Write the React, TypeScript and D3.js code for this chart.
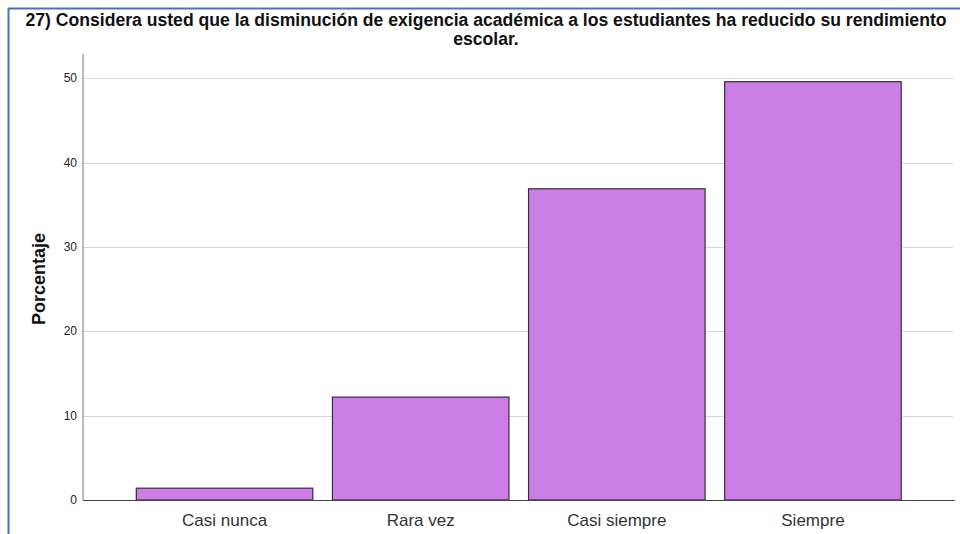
import { useEffect, useRef } from 'react';
import * as d3 from 'd3';

const categories = ['Casi nunca', 'Rara vez', 'Casi siempre', 'Siempre'];
const percentages = [1.4, 12.2, 36.9, 49.6];
const yTicks = [0, 10, 20, 30, 40, 50];
const titleLines = [
  '27) Considera usted que la disminución de exigencia académica a los estudiantes ha reducido su rendimiento',
  'escolar.',
];
const yLabel = 'Porcentaje';

export default function App() {
  const svgRef = useRef<SVGSVGElement>(null);
  const width = 960;
  const height = 534;

  useEffect(() => {
    if (!svgRef.current) return;
    const svg = d3.select(svgRef.current);
    svg.selectAll('*').remove();

    const left = 83;
    const top = 78;
    const bottom = 500;
    const font = 'Arial, "Liberation Sans", sans-serif';

    // frame lines on the left and top
    svg.append('line').attr('x1', 8.5).attr('x2', 8.5).attr('y1', 8).attr('y2', height)
      .attr('stroke', '#4472c4').attr('stroke-width', 2);
    svg.append('line').attr('x1', 8).attr('x2', width).attr('y1', 8.5).attr('y2', 8.5)
      .attr('stroke', '#4472c4').attr('stroke-width', 2);

    const y = d3.scaleLinear().domain([0, 50]).range([bottom, top + 0.3]);
    const x = d3.scaleBand<string>()
      .domain(categories)
      .range([126.5, 911])
      .paddingInner(0.1)
      .paddingOuter(0.05);

    // gridlines
    svg.append('g')
      .selectAll('line')
      .data(yTicks.filter(t => t > 0))
      .join('line')
      .attr('x1', left)
      .attr('x2', 953)
      .attr('y1', d => Math.round(y(d)) + 0.5)
      .attr('y2', d => Math.round(y(d)) + 0.5)
      .attr('stroke', '#d6d6d6')
      .attr('stroke-width', 1);

    // bars
    svg.append('g')
      .selectAll('rect')
      .data(percentages)
      .join('rect')
      .attr('x', (d, i) => x(categories[i])!)
      .attr('y', d => y(d))
      .attr('width', x.bandwidth())
      .attr('height', d => bottom - y(d))
      .attr('fill', '#cb7ee6')
      .attr('stroke', '#3a2a3f')
      .attr('stroke-width', 1.2);

    // axes lines
    svg.append('line').attr('x1', left).attr('x2', left).attr('y1', 54).attr('y2', bottom)
      .attr('stroke', '#777').attr('stroke-width', 1);
    svg.append('line').attr('x1', left).attr('x2', 955).attr('y1', bottom + 0.5).attr('y2', bottom + 0.5)
      .attr('stroke', '#444').attr('stroke-width', 1);

    // y tick labels
    svg.append('g')
      .selectAll('text')
      .data(yTicks)
      .join('text')
      .attr('x', 77)
      .attr('y', d => y(d) + 4)
      .attr('text-anchor', 'end')
      .style('font-family', font)
      .style('font-size', '12px')
      .style('fill', '#222')
      .text(d => d);

    // x labels
    svg.append('g')
      .selectAll('text')
      .data(categories)
      .join('text')
      .attr('x', d => x(d)! + x.bandwidth() / 2)
      .attr('y', 526)
      .attr('text-anchor', 'middle')
      .style('font-family', font)
      .style('font-size', '17px')
      .style('fill', '#333')
      .text(d => d);

    // title
    svg.append('g')
      .selectAll('text')
      .data(titleLines)
      .join('text')
      .attr('x', 486)
      .attr('y', (d, i) => 26 + i * 19)
      .attr('text-anchor', 'middle')
      .style('font-family', font)
      .style('font-size', '17.6px')
      .style('font-weight', 'bold')
      .style('fill', '#111')
      .text(d => d);

    // y axis title
    svg.append('text')
      .attr('transform', `translate(45, 279) rotate(-90)`)
      .attr('text-anchor', 'middle')
      .style('font-family', font)
      .style('font-size', '18px')
      .style('font-weight', 'bold')
      .style('fill', '#111')
      .text(yLabel);
  }, []);

  return (
    <div style={{ position: 'absolute', left: 0, top: 0 }}>
      <svg ref={svgRef} width={width} height={height} style={{ display: 'block', background: '#fff' }} />
    </div>
  );
}
